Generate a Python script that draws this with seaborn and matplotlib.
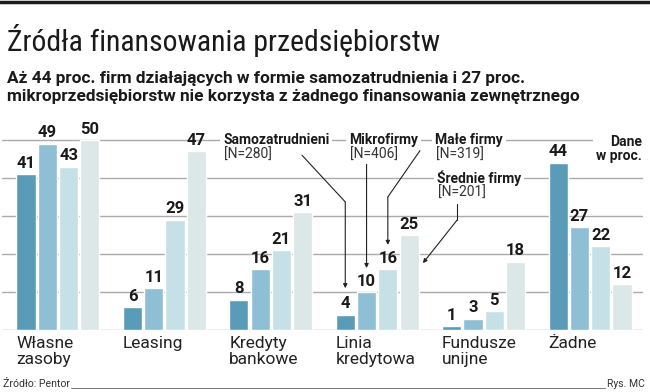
import numpy as np
import pandas as pd
import matplotlib
matplotlib.use("Agg")
import matplotlib.pyplot as plt
import matplotlib.font_manager as fm
from matplotlib.lines import Line2D
import seaborn as sns

# dane (proc.)
kategorie = ["Własne zasoby", "Leasing", "Kredyty bankowe", "Linia kredytowa",
             "Fundusze unijne", "Żadne"]
etykiety_kat = ["Własne\nzasoby", "Leasing", "Kredyty\nbankowe", "Linia\nkredytowa",
                "Fundusze\nunijne", "Żadne"]
grupy = ["Samozatrudnieni", "Mikrofirmy", "Małe firmy", "Średnie firmy"]
liczebnosc = ["[N=280]", "[N=406]", "[N=319]", "[N=201]"]
samozatrudnieni = [41, 6, 8, 4, 1, 44]
mikrofirmy = [49, 11, 16, 10, 3, 27]
male_firmy = [43, 29, 21, 16, 5, 22]
srednie_firmy = [50, 47, 31, 25, 18, 12]
kolory = ["#5a9cb8", "#8fbfd4", "#c6e0e7", "#dce7e7"]

df = pd.DataFrame({
    "kategoria": kategorie * 4,
    "grupa": np.repeat(grupy, len(kategorie)),
    "wartosc": samozatrudnieni + mikrofirmy + male_firmy + srednie_firmy,
})

sns.set_style("white")
plt.rcParams["font.family"] = ["Roboto", "DejaVu Sans"]

# wąska czcionka do tytułu, jeśli jest
names = sorted({f.name for f in fm.fontManager.ttflist})
narrow = None
for n in ["Liberation Sans Narrow", "Roboto Condensed", "DejaVu Sans Condensed",
          "Open Sans Condensed", "Noto Sans Condensed"]:
    if n in names:
        narrow = n
        break
if narrow is None:
    cand = [n for n in names if "Condensed" in n or "Narrow" in n]
    narrow = cand[0] if cand else "Roboto"

fig = plt.figure(figsize=(6.5, 3.92), dpi=100)
W, H = 650, 392
ax = fig.add_axes([2 / W, 62 / H, 641 / W, 52 * 3.8 / H])

sns.barplot(data=df, x="kategoria", y="wartosc", hue="grupa", order=kategorie,
            hue_order=grupy, palette=kolory, saturation=1, gap=0.1, width=0.8,
            legend=False, ax=ax, zorder=2)

ax.set_xlim(-0.526, 5.498)
ax.set_ylim(0, 52)
ax.set_yticks([0, 10, 20, 30, 40, 50])
ax.yaxis.grid(True, color="#ababab", lw=1.0, zorder=0)
ax.set_axisbelow(True)
for s in ax.spines.values():
    s.set_visible(False)
ax.set_xticks([])
ax.tick_params(left=False, labelleft=False)
ax.set_xlabel("")
ax.set_ylabel("")

for cont in ax.containers:
    ax.bar_label(cont, padding=2.5, fontsize=12, fontweight="bold",
                 color="#1a1a1a", clip_on=False)

for i, lab in enumerate(etykiety_kat):
    ax.annotate(lab, xy=(i - 0.39, 0), xycoords=("data", "axes fraction"),
                xytext=(0, -4), textcoords="offset points", ha="left", va="top",
                fontsize=12.5, linespacing=1.15, color="#222222")

# opisy serii
bb = dict(fc="white", ec="none", pad=2.0)
pozycje = [(1.551, 50), (2.735, 50), (3.543, 50), (3.562, 40)]
for (x, y), g, n in zip(pozycje, grupy, liczebnosc):
    ax.text(x, y, g, fontsize=10, fontweight="bold", ha="left", va="center",
            color="#1a1a1a", bbox=bb, zorder=5)
    ax.annotate(n, xy=(x, y), xytext=(1.0, -10.5), textcoords="offset points",
                fontsize=10, ha="left", va="center", color="#333333", zorder=5)
ax.text(5.489, 51.3, "Dane\nw proc.", fontsize=10, fontweight="bold", ha="right",
        va="top", color="#1a1a1a", linespacing=1.0, bbox=bb, zorder=5)

# strzałki
strzalki = [
    [(2.293, 46.0), (2.70, 33.7), (2.70, 11.0)],
    [(2.90, 43.6), (2.90, 16.3)],
    [(3.402, 47.2), (3.10, 35.0), (3.10, 22.4)],
    [(3.75, 33.2), (3.75, 28.9), (3.43, 17.6)],
]
for pts in strzalki:
    xs, ys = zip(*pts)
    ax.plot(xs[:-1], ys[:-1], color="#222222", lw=0.8, zorder=4)
    ax.annotate("", xy=pts[-1], xytext=pts[-2],
                arrowprops=dict(arrowstyle="-|>", lw=0.8, color="#222222",
                                mutation_scale=6, shrinkA=0, shrinkB=0), zorder=4)

# nagłówek
fig.add_artist(Line2D([0, 1], [1 - 1.5 / H, 1 - 1.5 / H], color="#1a1a1a", lw=2.5))
tytul = fig.text(7 / W, 1 - 51 / H, "Źródła finansowania przedsiębiorstw",
                 family=[narrow, "DejaVu Sans"], fontsize=22, color="#1a1a1a",
                 va="baseline", ha="left")
podtytul = fig.text(7 / W, 1 - 87 / H,
                    "Aż 44 proc. firm działających w formie samozatrudnienia i 27 proc.\n"
                    "mikroprzedsiębiorstw nie korzysta z żadnego finansowania zewnętrznego",
                    fontsize=11, fontweight="bold", color="#1a1a1a", va="center",
                    ha="left", linespacing=1.25)

# stopka
zrodlo = fig.text(3 / W, 1 - 387 / H, "Źródło: Pentor", fontsize=7.5,
                  color="#333333", va="baseline", ha="left")
rys = fig.text(645 / W, 1 - 387 / H, "Rys. MC", fontsize=7.5, color="#333333",
               va="baseline", ha="right")

# dopasowanie szerokości napisów do oryginału
fig.canvas.draw()
r = fig.canvas.get_renderer()
for t, target in [(tytul, 433), (podtytul, 571), (zrodlo, 67)]:
    w = t.get_window_extent(r).width
    t.set_fontsize(t.get_fontsize() * target / w)
fig.canvas.draw()
x0 = zrodlo.get_window_extent(r).x1 + 1
x1 = rys.get_window_extent(r).x0 - 2
fig.add_artist(Line2D([x0 / W, x1 / W], [1 - 388 / H, 1 - 388 / H],
                      color="#777777", lw=0.7))

fig.savefig("out.png", dpi=100)
